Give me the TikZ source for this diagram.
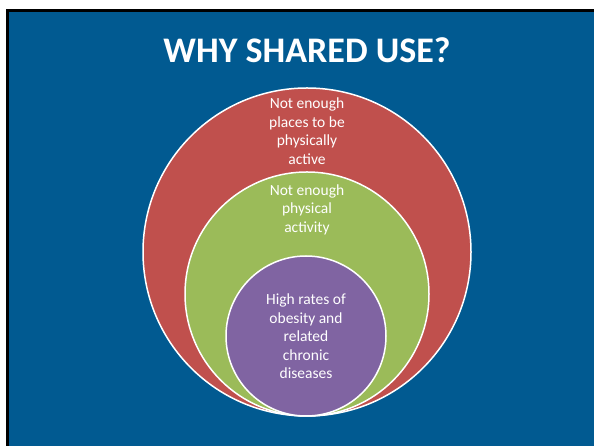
\documentclass[tikz,border=0pt]{standalone}
\usepackage{fontspec}
\setmainfont{Carlito}
\usepackage{tikz}
\usetikzlibrary{positioning}
\definecolor{clrSlide}{RGB}{1,90,145}
\definecolor{clrRed}{RGB}{192,80,77}
\definecolor{clrGreen}{RGB}{155,187,89}
\definecolor{clrPurple}{RGB}{128,100,162}
\tikzstyle{ring_style}=[circle, draw=white, line width=1.5pt, inner sep=0pt]
\tikzstyle{ring_red}=[ring_style, fill=clrRed, minimum size=328pt]
\tikzstyle{ring_green}=[ring_style, fill=clrGreen, minimum size=244pt]
\tikzstyle{ring_purple}=[ring_style, fill=clrPurple, minimum size=160pt]
\tikzstyle{ring_text}=[text=white, align=center, inner sep=0pt,
font=\fontsize{15.5}{18.5}\selectfont]
\tikzstyle{title}=[text=white, anchor=base, font=\fontsize{36}{40}\selectfont\bfseries]

\begin{document}
\begin{tikzpicture}[x=1pt, y=1pt]
		\useasboundingbox (0,0) rectangle (594,446);
		\fill[white] (0,0) rectangle (594,446);
		\fill[clrSlide] (7.5,0) rectangle (594,435.5);
		\draw[black, line width=3pt] (7.5,0) -- (7.5,435.5) -- (594,435.5);

		\node[title] (T) at (307,383) {WHY SHARED USE?};

		% nested circles, all touching at the bottom
		\node[ring_red] (R) at (307,194) {};
		\node[ring_green] (G) at (307,152) {};
		\node[ring_purple] (P) at (306,110) {};

		\node[ring_text] (RT) at (307,315) {Not enough\\places to be\\physically\\active};
		\node[ring_text] (GT) at (307,236.5) {Not enough\\physical\\activity};
		\node[ring_text] (PT) at (306,109.5) {High rates of\\obesity and\\related\\chronic\\diseases};
	\end{tikzpicture}
\end{document}
